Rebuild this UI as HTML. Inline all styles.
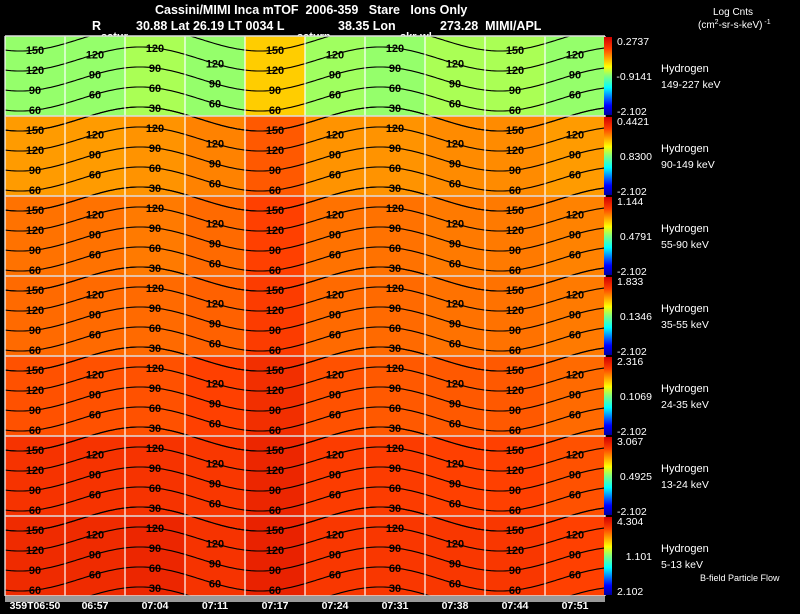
<!DOCTYPE html>
<html><head><meta charset="utf-8">
<style>
html,body{margin:0;padding:0;background:#000;}
body{width:800px;height:609px;overflow:hidden;position:relative;font-family:"Liberation Sans",sans-serif;}
svg text{font-family:"Liberation Sans",sans-serif;}
</style></head>
<body>
<svg id="chart" width="800" height="609" viewBox="0 0 800 609" xmlns="http://www.w3.org/2000/svg">
  <rect x="0" y="0" width="800" height="609" fill="#000"/>
  <g fill="#fff" font-size="12.5" font-weight="bold">
    <text x="155" y="14">Cassini/MIMI Inca mTOF&#160;&#160;2006-359&#160;&#160;&#160;Stare&#160;&#160;&#160;Ions Only</text>
    <text x="92" y="30">R</text>
    <text x="136" y="30">30.88 Lat 26.19 LT 0034 L</text>
    <text x="338" y="30">38.35 Lon</text>
    <text x="440" y="30">273.28&#160;&#160;MIMI/APL</text>
    <text x="101" y="40" font-size="11">satur</text>
    <text x="297" y="40" font-size="11">saturn</text>
    <text x="400" y="40" font-size="11">skr-wl</text>
  </g>
  <g fill="#fff" font-size="10">
    <text x="713" y="15">Log Cnts</text>
    <text x="698" y="28">(cm<tspan font-size="7" dy="-4">2</tspan><tspan dy="4">-sr-s-keV)</tspan><tspan font-size="7" dy="-4"> -1</tspan></text>
  </g>
  <defs>
    <linearGradient id="jet" x1="0" y1="1" x2="0" y2="0">
      <stop offset="0" stop-color="#0000a0"/>
      <stop offset="0.12" stop-color="#0000ff"/>
      <stop offset="0.35" stop-color="#00ffff"/>
      <stop offset="0.5" stop-color="#80ff80"/>
      <stop offset="0.62" stop-color="#ffff00"/>
      <stop offset="0.85" stop-color="#ff4000"/>
      <stop offset="1" stop-color="#d00000"/>
    </linearGradient>
    <clipPath id="plotclip"><rect x="5" y="36" width="600" height="560"/></clipPath>
  </defs>
  <g id="heat" clip-path="url(#plotclip)"></g>
  <g id="contours" clip-path="url(#plotclip)"></g>
  <g id="grid"></g>
  <g id="bars"></g>
  <g id="timeaxis"></g>
  <text x="700" y="581" fill="#fff" font-size="9">B-field Particle Flow</text>
</svg>
<script>
const NS='http://www.w3.org/2000/svg';
const energies=['149-227 keV','90-149 keV','55-90 keV','35-55 keV','24-35 keV','13-24 keV','5-13 keV'];
const cbTop=['0.2737','0.4421','1.144','1.833','2.316','3.067','4.304'];
const cbMid=['-0.9141','0.8300','0.4791','0.1346','0.1069','0.4925','1.101'];
const cbBot=['-2.102','-2.102','-2.102','-2.102','-2.102','-2.102','2.102'];
const timeLabels=['359T06:50','06:57','07:04','07:11','07:17','07:24','07:31','07:38','07:44','07:51'];
const contourLevels=[150,120,90,60,30];
// normalized color-scale value per energy row x time column
const row0=[0.52,0.52,0.54,0.52,0.68,0.53,0.52,0.54,0.54,0.52];
const row1=[0.74,0.74,0.75,0.77,0.82,0.75,0.75,0.76,0.76,0.74];
const row2=[0.79,0.79,0.78,0.80,0.85,0.79,0.79,0.78,0.78,0.77];
const row3=[0.80,0.80,0.80,0.81,0.86,0.80,0.80,0.79,0.79,0.78];
const row4=[0.83,0.83,0.83,0.85,0.89,0.83,0.82,0.82,0.82,0.80];
const row5=[0.88,0.88,0.88,0.87,0.91,0.86,0.86,0.85,0.85,0.83];
const row6=[0.90,0.90,0.91,0.88,0.92,0.87,0.87,0.87,0.87,0.85];
const values=[row0,row1,row2,row3,row4,row5,row6];

const X0=5,PW=60,Y0=36,RH=80,NC=10,NR=7;
function xCol(c){return X0+c*PW;}
function yRow(r){return Y0+r*RH;}
function jet(v){
  const stops=[[0,[0,0,160]],[0.12,[0,0,255]],[0.35,[0,255,255]],[0.5,[128,255,128]],[0.62,[255,255,0]],[0.85,[255,64,0]],[1,[208,0,0]]];
  v=Math.max(0,Math.min(1,v));
  for(let i=1;i<stops.length;i++){if(v<=stops[i][0]){const a=stops[i-1],b=stops[i];const t=(v-a[0])/(b[0]-a[0]);
    return 'rgb('+a[1].map((q,k)=>Math.round(q+(b[1][k]-q)*t)).join(',')+')';}}
  return 'rgb(208,0,0)';
}
function mk(tag,attrs,parent){const e=document.createElementNS(NS,tag);for(const k in attrs)e.setAttribute(k,attrs[k]);parent.appendChild(e);return e;}
const heat=document.getElementById('heat'),cont=document.getElementById('contours'),grid=document.getElementById('grid'),bars=document.getElementById('bars'),tax=document.getElementById('timeaxis');

for(let r=0;r<NR;r++){
  for(let c=0;c<NC;c++){
    const cell=mk('rect',{x:xCol(c),y:yRow(r),width:PW,height:RH,fill:jet(values[r][c])},heat);
    
    
  }
  const top=yRow(r);
  contourLevels.forEach((lv,k)=>{
    const mid=top+3+20*k;
    const yAt=x=>mid+12*Math.cos(2*Math.PI*(x-260)/240);
    let d='';
    for(let x=X0;x<=X0+600;x+=2){d+=(x===X0?'M':'L')+x+','+yAt(x).toFixed(1);}
    const p=mk('path',{d:d,fill:'none',stroke:'#000','stroke-width':1.1},cont);
    
    
    for(let c=0;c<NC;c++){
      const lx=xCol(c)+30, ly=yAt(lx);
      if(ly>top+8&&ly<top+RH-2){
        const t=mk('text',{x:lx,y:ly+4,'text-anchor':'middle','font-size':11,'font-weight':'bold',fill:'#000'},cont);
        t.textContent=lv;
        
        
      }
    }
  });
  const cb=mk('rect',{x:604,y:top+1,width:8,height:RH-2,fill:'url(#jet)'},bars);
  
  
  const t1=mk('text',{x:617,y:top+9,fill:'#fff','font-size':10.5},bars);t1.textContent=cbTop[r];
  
  
  const t2=mk('text',{x:652,y:top+44,fill:'#fff','font-size':10.5,'text-anchor':'end'},bars);t2.textContent=cbMid[r];
  
  
  const t3=mk('text',{x:617,y:top+RH-1,fill:'#fff','font-size':10.5},bars);t3.textContent=cbBot[r];
  
  
  const h1=mk('text',{x:661,y:top+36,fill:'#fff','font-size':11},bars);h1.textContent='Hydrogen';
  
  
  const h2=mk('text',{x:661,y:top+52,fill:'#fff','font-size':10.5},bars);h2.textContent=energies[r];
  
  
}
for(let c=0;c<=NC;c++){
  const l=mk('line',{x1:xCol(c),y1:Y0,x2:xCol(c),y2:Y0+NR*RH,stroke:'#fff','stroke-width':1.2},grid);
  
  
}
for(let r=0;r<=NR;r++){
  const l=mk('line',{x1:X0,y1:yRow(r),x2:X0+600,y2:yRow(r),stroke:'#ddd','stroke-width':1.5},grid);
  
  
}
const gb=mk('rect',{x:X0,y:596,width:600,height:6,fill:'#9a9a9a'},tax);


timeLabels.forEach((s,i)=>{
  const cx=i===0?35:xCol(i)+30;
  const t=mk('text',{x:cx,y:609,'text-anchor':'middle',fill:'#fff','font-size':10.5,'font-weight':'bold'},tax);
  t.textContent=s;
  
  
});
</script>
</body></html>
